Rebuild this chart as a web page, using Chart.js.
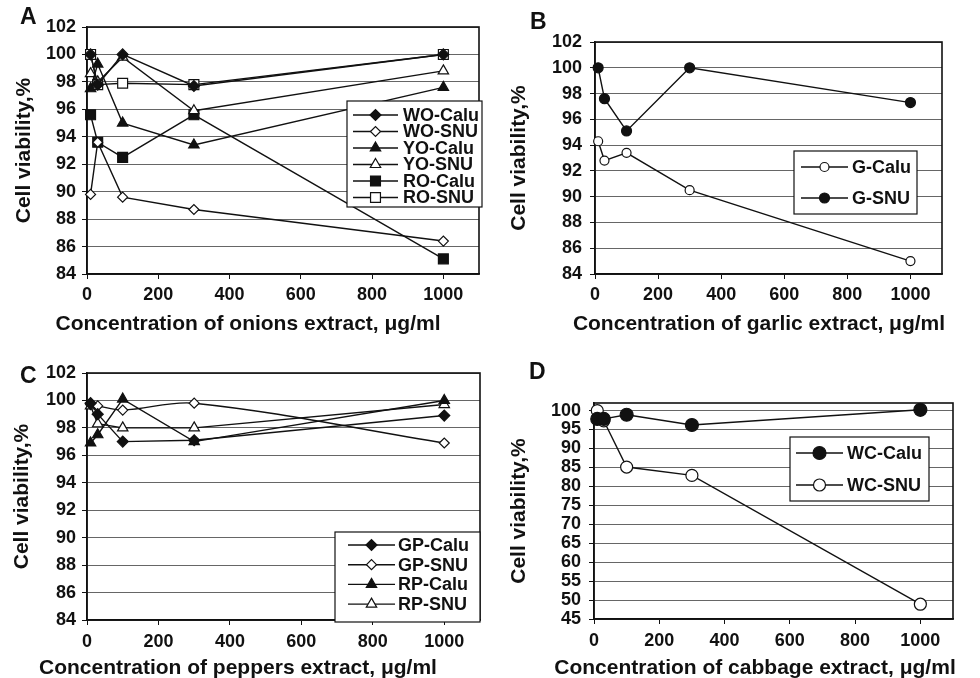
<!DOCTYPE html>
<html lang="en">
<head>
<meta charset="UTF-8">
<title>Cell viability vs extract concentration</title>
<script src="https://cdn.jsdelivr.net/npm/chart.js"></script>
<style>
    body {
        margin: 0;
        background: #fff;
    }

    #page {
        position: relative;
        width: 980px;
        height: 678px;
        overflow: hidden;
        font-family: "Liberation Sans", Arial, sans-serif;
    }

    .panel {
        position: absolute;
    }

    .tag {
        position: absolute;
        font-weight: bold;
        font-size: 23px;
        line-height: 1;
        color: #111;
    }
</style>
</head>
<body>
<div id="page">
    <div class="panel" style="left:0;top:0"><canvas id="chartA" width="490" height="335"></canvas></div>
    <div class="panel" style="left:490px;top:0"><canvas id="chartB" width="490" height="335"></canvas></div>
    <div class="panel" style="left:0;top:335px"><canvas id="chartC" width="490" height="343"></canvas></div>
    <div class="panel" style="left:490px;top:335px"><canvas id="chartD" width="490" height="343"></canvas></div>

    <div class="tag" style="left:20px;top:5px">A</div>
    <div class="tag" style="left:530px;top:10px">B</div>
    <div class="tag" style="left:20px;top:364px">C</div>
    <div class="tag" style="left:529px;top:360px">D</div>
</div>

<script>
    // concentrations, µg/ml
    const conc = [10, 30, 100, 300, 1000];
    const xTicks = [0, 200, 400, 600, 800, 1000];
    const yTicks = [84, 86, 88, 90, 92, 94, 96, 98, 100, 102];
    const yTicksD = [45, 50, 55, 60, 65, 70, 75, 80, 85, 90, 95, 100];

    // A - onions
    const woCalu = [100, 97.8, 100, 97.7, 100];
    const woSnu = [89.8, 93.6, 89.6, 88.7, 86.4];
    const yoCalu = [97.5, 99.3, 95.0, 93.4, 97.6];
    const yoSnu = [98.6, 98.0, 99.8, 95.9, 98.8];
    const roCalu = [95.6, 93.6, 92.5, 95.6, 85.1];
    const roSnu = [100, 97.8, 97.9, 97.8, 100];

    // B - garlic
    const gCalu = [94.3, 92.8, 93.4, 90.5, 85.0];
    const gSnu = [100, 97.6, 95.1, 100, 97.3];

    // C - peppers
    const gpCalu = [99.8, 99.0, 97.0, 97.1, 98.9];
    const gpSnu = [99.7, 99.6, 99.3, 99.8, 96.9];
    const rpCalu = [96.9, 97.5, 100.1, 97.0, 100.0];
    const rpSnu = [99.6, 98.3, 98.0, 98.0, 99.7];

    // D - cabbage
    const wcCalu = [97.8, 97.8, 98.9, 96.2, 100.2];
    const wcSnu = [100, 97.3, 85.1, 82.9, 48.9];

    const FONT = '"Liberation Sans", Arial, sans-serif';
    const INK = '#111';

    function series(label, ys, style, filled, r, tension) {
        return {
            label: label,
            data: conc.map((x, i) => ({ x: x, y: ys[i] })),
            borderColor: INK,
            borderWidth: 1.4,
            pointStyle: style,
            pointRadius: r,
            pointBackgroundColor: filled ? INK : '#fff',
            pointBorderColor: INK,
            pointBorderWidth: 1.2,
            tension: tension || 0,
            clip: false
        };
    }

    // plot frame, x title and boxed legend inside the plot
    const boxLegend = {
        id: 'boxLegend',
        beforeDatasetsDraw(chart) {
            const a = chart.chartArea;
            const ctx = chart.ctx;
            ctx.save();
            ctx.strokeStyle = INK;
            ctx.lineWidth = 1.6;
            ctx.strokeRect(a.left, a.top, a.right - a.left, a.bottom - a.top);
            ctx.restore();
        },
        afterDatasetsDraw(chart, args, opts) {
            const ctx = chart.ctx;
            ctx.save();
            ctx.fillStyle = INK;
            ctx.font = 'bold 21px ' + FONT;
            ctx.textAlign = 'center';
            ctx.textBaseline = 'middle';
            ctx.fillText(opts.xtitle, opts.tcx, opts.tcy);

            ctx.textAlign = 'left';
            ctx.fillStyle = '#fff';
            ctx.fillRect(opts.x, opts.y, opts.w, opts.h);
            ctx.strokeStyle = INK;
            ctx.lineWidth = 1.2;
            ctx.strokeRect(opts.x, opts.y, opts.w, opts.h);
            ctx.font = 'bold 18px ' + FONT;
            chart.data.datasets.forEach((ds, i) => {
                const y = opts.row0 + i * opts.step;
                ctx.beginPath();
                ctx.moveTo(opts.x1, y);
                ctx.lineTo(opts.x2, y);
                ctx.strokeStyle = ds.borderColor;
                ctx.lineWidth = ds.borderWidth;
                ctx.stroke();
                ctx.fillStyle = ds.pointBackgroundColor;
                ctx.strokeStyle = ds.pointBorderColor;
                ctx.lineWidth = ds.pointBorderWidth;
                Chart.helpers.drawPoint(ctx, {
                    pointStyle: ds.pointStyle,
                    radius: ds.pointRadius,
                    rotation: 0,
                    borderWidth: ds.pointBorderWidth
                }, (opts.x1 + opts.x2) / 2, y);
                ctx.fillStyle = INK;
                ctx.fillText(ds.label, opts.tx, y + 1);
            });
            ctx.restore();
        }
    };

    function makePanel(id, p) {
        const tickFont = { family: FONT, size: 18, weight: 'bold' };
        const titleFont = { family: FONT, size: 21, weight: 'bold' };
        p.legend.xtitle = p.xtitle;
        new Chart(document.getElementById(id), {
            type: 'line',
            data: { datasets: p.datasets },
            plugins: [boxLegend],
            options: {
                responsive: false,
                animation: false,
                events: [],
                layout: { padding: { top: p.top, right: p.right, left: 0, bottom: 0 } },
                plugins: {
                    legend: { display: false },
                    tooltip: { enabled: false },
                    boxLegend: p.legend
                },
                scales: {
                    x: {
                        type: 'linear',
                        min: 0,
                        max: 1100,
                        afterBuildTicks: s => { s.ticks = xTicks.map(v => ({ value: v })); },
                        afterFit: s => { s.height = p.xh; },
                        grid: { drawOnChartArea: false, tickLength: 5, tickColor: INK },
                        border: { color: INK, width: 1.6 },
                        ticks: {
                            color: INK, font: tickFont, padding: p.xpad, maxRotation: 0,
                            autoSkip: false, callback: v => String(v)
                        },
                        title: { display: false }
                    },
                    y: {
                        min: p.ymin,
                        max: p.ymax,
                        afterBuildTicks: s => { s.ticks = p.yticks.map(v => ({ value: v })); },
                        afterFit: s => { s.width = p.yw; },
                        grid: { color: '#666', lineWidth: 1, tickLength: 5, tickColor: INK },
                        border: { color: INK, width: 1.6 },
                        ticks: {
                            color: INK, font: tickFont, padding: p.ypad,
                            autoSkip: false, callback: v => String(v)
                        },
                        title: {
                            display: true,
                            text: 'Cell viability,%',
                            color: INK,
                            font: titleFont,
                            padding: { top: p.ytpad, bottom: 0 }
                        }
                    }
                }
            }
        });
    }

    makePanel('chartA', {
        top: 27, right: 11, yw: 87, xh: 61, xpad: 5, ypad: 6, ytpad: 12,
        ymin: 84, ymax: 102, yticks: yTicks,
        xtitle: 'Concentration of onions extract, μg/ml',
        datasets: [
            series('WO-Calu', woCalu, 'rectRot', true, 5.5),
            series('WO-SNU', woSnu, 'rectRot', false, 5),
            series('YO-Calu', yoCalu, 'triangle', true, 6),
            series('YO-SNU', yoSnu, 'triangle', false, 6),
            series('RO-Calu', roCalu, 'rect', true, 7),
            series('RO-SNU', roSnu, 'rect', false, 7)
        ],
        legend: { x: 347, y: 101, w: 135, h: 106, row0: 115, step: 16.5, x1: 353, x2: 398, tx: 403, tcx: 248, tcy: 324 }
    });

    makePanel('chartB', {
        top: 42, right: 38, yw: 105, xh: 61, xpad: 5, ypad: 8, ytpad: 17,
        ymin: 84, ymax: 102, yticks: yTicks,
        xtitle: 'Concentration of garlic extract, μg/ml',
        datasets: [
            series('G-Calu', gCalu, 'circle', false, 4.5),
            series('G-SNU', gSnu, 'circle', true, 5)
        ],
        legend: { x: 304, y: 151, w: 123, h: 63, row0: 167, step: 31, x1: 311, x2: 358, tx: 362, tcx: 269, tcy: 324 }
    });

    makePanel('chartC', {
        top: 38, right: 10, yw: 87, xh: 58, xpad: 6, ypad: 6, ytpad: 10,
        ymin: 84, ymax: 102, yticks: yTicks,
        xtitle: 'Concentration of peppers extract, μg/ml',
        datasets: [
            series('GP-Calu', gpCalu, 'rectRot', true, 5.5),
            series('GP-SNU', gpSnu, 'rectRot', false, 5, 0.35),
            series('RP-Calu', rpCalu, 'triangle', true, 6),
            series('RP-SNU', rpSnu, 'triangle', false, 6)
        ],
        legend: { x: 335, y: 197, w: 145, h: 90, row0: 210, step: 19.7, x1: 348, x2: 395, tx: 398, tcx: 238, tcy: 333 }
    });

    makePanel('chartD', {
        top: 68, right: 27, yw: 104, xh: 59, xpad: 6, ypad: 8, ytpad: 17,
        ymin: 45, ymax: 102, yticks: yTicksD,
        xtitle: 'Concentration of cabbage extract, μg/ml',
        datasets: [
            series('WC-Calu', wcCalu, 'circle', true, 6.5),
            series('WC-SNU', wcSnu, 'circle', false, 6)
        ],
        legend: { x: 300, y: 102, w: 139, h: 64, row0: 118, step: 32, x1: 306, x2: 353, tx: 357, tcx: 265, tcy: 333 }
    });
</script>
</body>
</html>
